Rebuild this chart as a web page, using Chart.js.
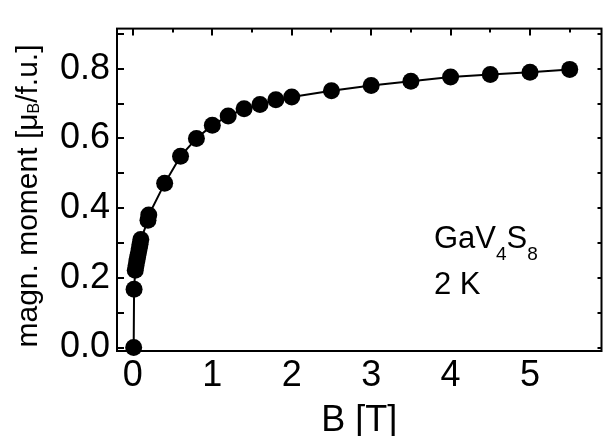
<!DOCTYPE html>
<html>
<head>
<meta charset="utf-8">
<script src="https://cdn.jsdelivr.net/npm/chart.js@4"></script>
<style>
  html, body { margin: 0; padding: 0; background: #fff; }
  #wrap { width: 610px; height: 436px; }
</style>
</head>
<body>
<div id="wrap"><canvas id="chart" width="610" height="436"></canvas></div>
<script>
// magnetisation of GaV4S8 at 2 K
const fieldT = [0.01, 0.015, 0.03, 0.04, 0.05, 0.06, 0.07, 0.08, 0.09, 0.1,
    0.19, 0.2, 0.4, 0.6, 0.8, 1.0, 1.2, 1.4, 1.6, 1.8, 2.0,
    2.5, 3.0, 3.5, 4.0, 4.5, 5.0, 5.5];
const moment = [0.0, 0.167, 0.222, 0.235, 0.248, 0.26, 0.272, 0.284, 0.296, 0.31,
    0.365, 0.38, 0.471, 0.549, 0.6, 0.638, 0.664, 0.685, 0.697, 0.711, 0.719,
    0.737, 0.752, 0.764, 0.776, 0.783, 0.79, 0.798];

const xTicks = [0, 1, 2, 3, 4, 5];
const yTicks = [0.0, 0.2, 0.4, 0.6, 0.8];

const FONT = '"Liberation Sans", Arial, Helvetica, sans-serif';

function getPoints(xs, ys) {
    let pts = [];
    for (let i = 0; i < xs.length; i++) {
        pts.push({x: xs[i], y: ys[i]});
    }
    return pts;
}

// frame, inward ticks, axis titles and the sample label
const decorations = {
    id: 'decorations',
    afterDraw(chart) {
        const ctx = chart.ctx;
        const a = chart.chartArea;
        const xs = chart.scales.x;
        const ys = chart.scales.y;
        ctx.save();
        ctx.strokeStyle = '#000';
        ctx.fillStyle = '#000';
        ctx.lineWidth = 2;
        ctx.strokeRect(a.left, a.top, a.right - a.left, a.bottom - a.top);

        ctx.beginPath();
        for (let v = 0; v <= 0.9001; v += 0.1) {
            const py = Math.round(ys.getPixelForValue(v));
            ctx.moveTo(a.left, py);
            ctx.lineTo(a.left + 7, py);
            ctx.moveTo(a.right, py);
            ctx.lineTo(a.right - 4, py);
        }
        for (let v = 0; v <= 5.5001; v += 0.5) {
            const px = Math.round(xs.getPixelForValue(v));
            const len = (Math.abs(v - Math.round(v)) < 0.01) ? 7 : 4;
            ctx.moveTo(px, a.top);
            ctx.lineTo(px, a.top + len);
        }
        ctx.stroke();

        // x title
        ctx.font = '36px ' + FONT;
        ctx.textAlign = 'center';
        ctx.textBaseline = 'alphabetic';
        ctx.fillText('B [T]', (a.left + a.right) / 2, 431);

        // y title with subscript B
        ctx.save();
        ctx.translate(37, 196);
        ctx.rotate(-Math.PI / 2);
        ctx.textAlign = 'left';
        const big = '30px ' + FONT;
        const small = '16px ' + FONT;
        const p1 = 'magn. moment [\u03bc';
        const p2 = 'B';
        const p3 = '/f.u.]';
        ctx.font = big;
        const w1 = ctx.measureText(p1).width;
        const w3 = ctx.measureText(p3).width;
        ctx.font = small;
        const w2 = ctx.measureText(p2).width;
        let x0 = -(w1 + w2 + w3) / 2;
        ctx.font = big;
        ctx.fillText(p1, x0, 0);
        ctx.font = small;
        ctx.fillText(p2, x0 + w1, 2);
        ctx.font = big;
        ctx.fillText(p3, x0 + w1 + w2, 0);
        ctx.restore();

        // sample label
        const lx = xs.getPixelForValue(3.79);
        const ly1 = ys.getPixelForValue(0.285);
        const ly2 = ys.getPixelForValue(0.154);
        const parts = [['GaV', 31, 0], ['4', 19, 12], ['S', 31, 0], ['8', 19, 12]];
        ctx.textAlign = 'left';
        let cx = lx;
        for (const [t, size, dy] of parts) {
            ctx.font = size + 'px ' + FONT;
            ctx.fillText(t, cx, ly1 + dy);
            cx += ctx.measureText(t).width;
        }
        ctx.font = '31px ' + FONT;
        ctx.fillText('2 K', lx, ly2);
        ctx.restore();
    }
};

const ctx = document.getElementById('chart').getContext('2d');
const chart = new Chart(ctx, {
    type: 'line',
    data: {
        datasets: [{
            data: getPoints(fieldT, moment),
            borderColor: '#000',
            backgroundColor: '#000',
            borderWidth: 2,
            pointRadius: 8.5,
            pointHoverRadius: 8.5,
            pointBackgroundColor: '#000',
            pointBorderColor: '#000',
            pointBorderWidth: 0,
            tension: 0,
            clip: false
        }]
    },
    options: {
        responsive: false,
        animation: false,
        events: [],
        layout: { padding: { top: 13, right: 2, left: 0, bottom: 0 } },
        plugins: {
            legend: { display: false },
            tooltip: { enabled: false }
        },
        scales: {
            x: {
                type: 'linear',
                min: -0.2,
                max: 5.9,
                grid: { display: false, drawTicks: false },
                border: { display: false },
                afterBuildTicks: function(scale) {
                    scale.ticks = xTicks.map(v => ({value: v}));
                },
                afterFit: function(scale) { scale.height = 85; },
                ticks: {
                    color: '#000',
                    font: { family: FONT, size: 36 },
                    padding: 3,
                    maxRotation: 0,
                    callback: v => String(v)
                }
            },
            y: {
                type: 'linear',
                min: -0.01,
                max: 0.915,
                grid: { display: false, drawTicks: false },
                border: { display: false },
                afterBuildTicks: function(scale) {
                    scale.ticks = yTicks.map(v => ({value: v}));
                },
                afterFit: function(scale) { scale.width = 117; },
                ticks: {
                    color: '#000',
                    font: { family: FONT, size: 36 },
                    padding: 7,
                    callback: v => v.toFixed(1)
                }
            }
        }
    },
    plugins: [decorations]
});
</script>
</body>
</html>
